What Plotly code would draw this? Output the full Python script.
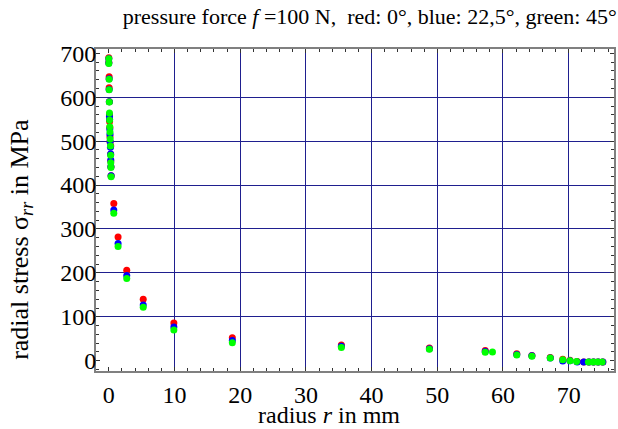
import plotly.graph_objects as go

# ---- data (radius in mm, radial stress in MPa) ----
red_x = [0.0, 0.0, 0.05, 0.05, 0.08, 0.1, 0.12, 0.15, 0.18, 0.2, 0.3, 0.28, 0.3, 0.32, 0.35,
         0.76, 1.41, 2.73, 5.24, 9.9, 18.8, 35.4, 48.8, 57.3, 62.1, 64.4, 67.2, 69.1, 70.2, 71.3, 72.3, 73.1, 73.8, 74.5, 75.2]
red_y = [690, 680, 647, 622, 590, 560, 545, 531, 510, 499, 489, 470, 455, 442, 421,
         358, 282, 206, 140, 86, 52, 36, 29, 23, 16, 12, 7, 3, 1, -2, -3, -3, -3, -3, -3]

blue_x = [0.0, 0.0, 0.05, 0.05, 0.08, 0.1, 0.12, 0.15, 0.18, 0.2, 0.25, 0.28, 0.3, 0.32, 0.35,
          0.76, 1.41, 2.73, 5.24, 9.9, 18.8, 35.4, 48.8, 57.3, 62.1, 64.4, 67.2, 69.1, 70.2, 71.3, 72.3, 73.1, 73.8, 74.5, 75.2]
blue_y = [688, 678, 642, 618, 590, 556, 550, 528, 516, 499, 486, 471, 457, 442, 421,
          343, 267, 194, 127, 77, 46, 33, 27, 21, 14, 11, 6, -1, 0, -3, -3, -3, -3, -3, -3]

green_x = [0.0, 0.0, 0.05, 0.05, 0.08, 0.1, 0.12, 0.15, 0.18, 0.2, 0.25, 0.28, 0.3, 0.32, 0.35,
           0.76, 1.41, 2.73, 5.24, 9.9, 18.8, 35.4, 48.8, 57.3, 58.4, 62.1, 64.4, 67.2, 69.1, 70.2, 71.2, 73.0, 73.7, 74.4, 75.1]
green_y = [688, 677, 641, 617, 589, 564, 548, 533, 521, 505, 489, 468, 451, 440, 419,
           336, 260, 187, 122, 70, 41, 30, 26, 19, 20, 13, 10, 6, 2, 0, -2, -3, -3, -3, -3]

x_ticks = [0, 10, 20, 30, 40, 50, 60, 70]
y_ticks = [0, 100, 200, 300, 400, 500, 600, 700]
x_grid = [10, 20, 30, 40, 50, 60, 70]
y_grid = [100, 200, 300, 400, 500, 600]

X_RANGE = [-1.95, 76.9]
Y_RANGE = [-23.5, 710]

FONT = "Liberation Serif"
GRID = "#1f1f8f"
FRAME = "#808080"

fig = go.Figure()
# empty trace to anchor grid-only overlay axes
fig.add_trace(go.Scatter(x=[], y=[], xaxis="x2", yaxis="y2", showlegend=False))
for xs, ys, col in [(red_x, red_y, "#ff0000"), (blue_x, blue_y, "#0000ff"), (green_x, green_y, "#00ff00")]:
    fig.add_trace(go.Scatter(x=xs, y=ys, mode="markers",
                             marker=dict(color=col, size=7, line=dict(width=0)),
                             showlegend=False, cliponaxis=False))

fig.update_layout(
    width=618, height=429,
    margin=dict(l=96, r=2, t=49, b=58),
    paper_bgcolor="white", plot_bgcolor="white",
    font=dict(family=FONT, color="black"),
    title=dict(text="pressure force <i>f</i> =100 N,  red: 0°, blue: 22,5°, green: 45°",
               x=0.998, xanchor="right", y=0.963, yanchor="middle",
               font=dict(size=22, family=FONT)),
    xaxis=dict(range=X_RANGE, tickvals=x_ticks, showgrid=False, zeroline=False,
               showline=True, linecolor=FRAME, linewidth=2, mirror="allticks",
               ticks="inside", ticklen=4, tickcolor="#333333", tickwidth=1,
               minor=dict(dtick=2, ticks="inside", ticklen=3, tickcolor="#333333", showgrid=False),
               tickfont=dict(size=24, family=FONT), ticklabelstandoff=1),
    yaxis=dict(range=Y_RANGE, tickvals=y_ticks, showgrid=False, zeroline=False,
               showline=True, linecolor=FRAME, linewidth=2, mirror="allticks",
               ticks="inside", ticklen=4, tickcolor="#333333", tickwidth=1,
               minor=dict(dtick=20, ticks="inside", ticklen=3, tickcolor="#333333", showgrid=False),
               tickfont=dict(size=24, family=FONT), ticklabelstandoff=-7),
    xaxis2=dict(range=X_RANGE, overlaying="x", tickvals=x_grid, showgrid=True,
                gridcolor=GRID, gridwidth=1, showticklabels=False, showline=False,
                zeroline=False, ticks=""),
    yaxis2=dict(range=Y_RANGE, overlaying="y", tickvals=y_grid, showgrid=True,
                gridcolor=GRID, gridwidth=1, showticklabels=False, showline=False,
                zeroline=False, ticks=""),
    annotations=[
        dict(text="radius <i>r</i> in mm", xref="paper", yref="paper",
             x=0.45, y=-0.137, xanchor="center", yanchor="middle", showarrow=False,
             font=dict(size=24, family=FONT)),
        dict(text="radial stress σ<sub><i>rr</i></sub> in MPa", xref="paper", yref="paper",
             x=-0.145, y=0.41, xanchor="center", yanchor="middle", showarrow=False,
             textangle=-90, font=dict(size=26, family=FONT)),
    ],
)

fig.write_html("out.html")
